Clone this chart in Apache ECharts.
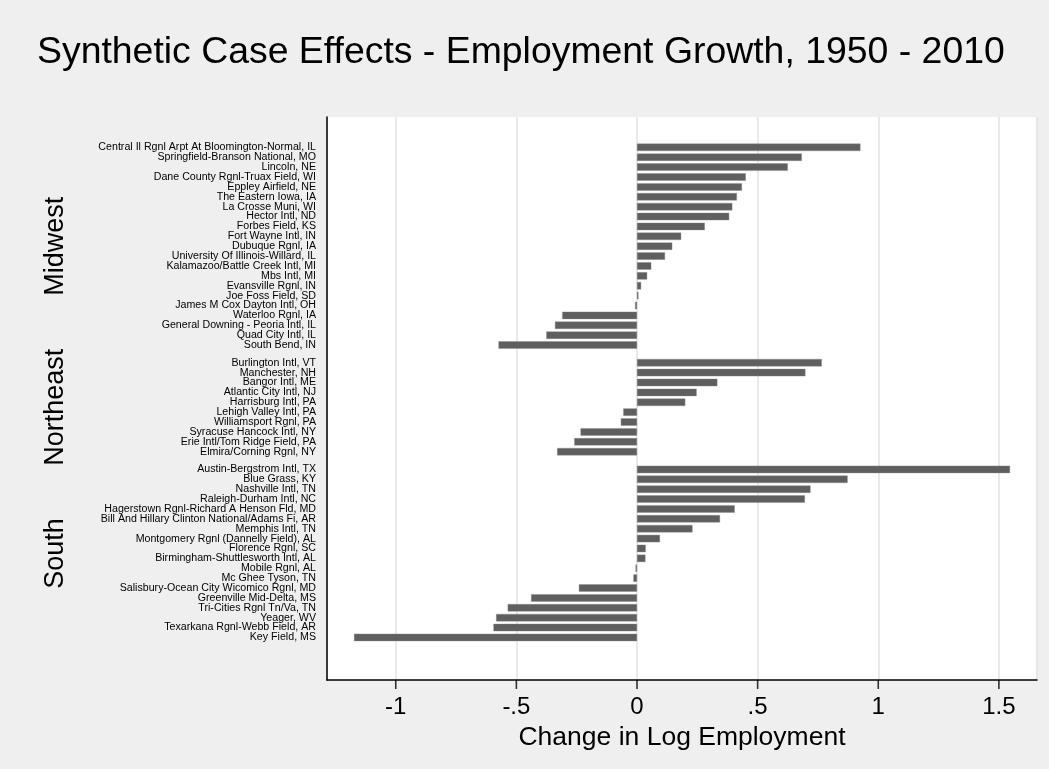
<!DOCTYPE html>
<html>
<head>
<meta charset="utf-8">
<script src="https://cdn.jsdelivr.net/npm/echarts@6/dist/echarts.min.js"></script>
<style>
html,body{margin:0;padding:0;background:#efefef;}
#chart{width:1049px;height:769px;}
</style>
</head>
<body>
<div id="chart"></div>
<script>
const titleText = 'Synthetic Case Effects - Employment Growth, 1950 - 2010';
const xAxisTitle = 'Change in Log Employment';
const xTicks = [-1, -0.5, 0, 0.5, 1, 1.5];
const regionNames = ['Midwest', 'Northeast', 'South'];

const midwestNames = [
  'Central Il Rgnl Arpt At Bloomington-Normal, IL',
  'Springfield-Branson National, MO',
  'Lincoln, NE',
  'Dane County Rgnl-Truax Field, WI',
  'Eppley Airfield, NE',
  'The Eastern Iowa, IA',
  'La Crosse Muni, WI',
  'Hector Intl, ND',
  'Forbes Field, KS',
  'Fort Wayne Intl, IN',
  'Dubuque Rgnl, IA',
  'University Of Illinois-Willard, IL',
  'Kalamazoo/Battle Creek Intl, MI',
  'Mbs Intl, MI',
  'Evansville Rgnl, IN',
  'Joe Foss Field, SD',
  'James M Cox Dayton Intl, OH',
  'Waterloo Rgnl, IA',
  'General Downing - Peoria Intl, IL',
  'Quad City Intl, IL',
  'South Bend, IN'
];
const midwestValues = [0.926, 0.683, 0.625, 0.451, 0.435, 0.414, 0.395, 0.382, 0.281, 0.183, 0.146, 0.116, 0.059, 0.042, 0.017, 0.006, -0.008, -0.310, -0.340, -0.376, -0.574];

const northeastNames = [
  'Burlington Intl, VT',
  'Manchester, NH',
  'Bangor Intl, ME',
  'Atlantic City Intl, NJ',
  'Harrisburg Intl, PA',
  'Lehigh Valley Intl, PA',
  'Williamsport Rgnl, PA',
  'Syracuse Hancock Intl, NY',
  'Erie Intl/Tom Ridge Field, PA',
  'Elmira/Corning Rgnl, NY'
];
const northeastValues = [0.766, 0.698, 0.333, 0.247, 0.200, -0.057, -0.067, -0.234, -0.260, -0.331];

const southNames = [
  'Austin-Bergstrom Intl, TX',
  'Blue Grass, KY',
  'Nashville Intl, TN',
  'Raleigh-Durham Intl, NC',
  'Hagerstown Rgnl-Richard A Henson Fld, MD',
  'Bill And Hillary Clinton National/Adams Fi, AR',
  'Memphis Intl, TN',
  'Montgomery Rgnl (Dannelly Field), AL',
  'Florence Rgnl, SC',
  'Birmingham-Shuttlesworth Intl, AL',
  'Mobile Rgnl, AL',
  'Mc Ghee Tyson, TN',
  'Salisbury-Ocean City Wicomico Rgnl, MD',
  'Greenville Mid-Delta, MS',
  'Tri-Cities Rgnl Tn/Va, TN',
  'Yeager, WV',
  'Texarkana Rgnl-Webb Field, AR',
  'Key Field, MS'
];
const southValues = [1.546, 0.873, 0.719, 0.696, 0.405, 0.344, 0.230, 0.095, 0.036, 0.035, -0.006, -0.015, -0.241, -0.439, -0.536, -0.584, -0.595, -1.173];

const groups = [
  {name: regionNames[0], cats: midwestNames, vals: midwestValues},
  {name: regionNames[1], cats: northeastNames, vals: northeastValues},
  {name: regionNames[2], cats: southNames, vals: southValues}
];

const X_MIN = -1.285, X_MAX = 1.658;
const PLOT_LEFT = 327, PLOT_RIGHT = 12, PLOT_TOP = 117, PLOT_BOTTOM_Y = 680;
const SLOT = 9.885, GROUP_GAP = 7.8;
const FIRST_TOP = 142.4;
const FONT = "'Liberation Sans', Arial, Helvetica, sans-serif";

function fmtTick(v) {
  let s = String(v);
  s = s.replace(/^0\./, '.').replace(/^-0\./, '-.');
  return s;
}

const grids = [{
  left: PLOT_LEFT, right: PLOT_RIGHT, top: PLOT_TOP, height: PLOT_BOTTOM_Y - PLOT_TOP,
  show: true, backgroundColor: '#ffffff', borderWidth: 0
}];
const xAxes = [{
  gridIndex: 0, type: 'value', min: X_MIN, max: X_MAX,
  name: xAxisTitle, nameLocation: 'middle', nameGap: 34,
  nameTextStyle: {fontFamily: FONT, fontSize: 26.5, color: '#000'},
  axisLine: {show: true, onZero: false, lineStyle: {color: '#000', width: 1.5}},
  axisTick: {show: false},
  axisLabel: {show: true, customValues: xTicks, margin: 15, fontFamily: FONT, fontSize: 24, color: '#000', formatter: fmtTick},
  splitLine: {show: true, lineStyle: {color: '#e2e2e2', width: 1.5}}
}];
const yAxes = [{
  gridIndex: 0, type: 'value', min: 0, max: 1,
  axisLine: {show: true, onZero: false, lineStyle: {color: '#000', width: 1.5}},
  axisTick: {show: false}, axisLabel: {show: false}, splitLine: {show: false}
}];
const seriesList = [{
  // tick marks below the x axis, placed at the tick values through the axis scale
  type: 'scatter', xAxisIndex: 0, yAxisIndex: 0,
  data: xTicks.map(v => [v, 0]),
  symbol: 'rect', symbolSize: [1.6, 9], symbolOffset: [0, 4.5],
  itemStyle: {color: '#000'}, clip: false, silent: true, z: 10, animation: false
}];

let gridTop = FIRST_TOP;
groups.forEach((g, i) => {
  const h = g.cats.length * SLOT;
  grids.push({left: PLOT_LEFT, right: PLOT_RIGHT, top: gridTop, height: h, show: false});
  xAxes.push({gridIndex: i + 1, type: 'value', min: X_MIN, max: X_MAX, show: false});
  yAxes.push({
    gridIndex: i + 1, type: 'category', data: g.cats, inverse: true,
    name: g.name, nameLocation: 'middle', nameRotate: 90, nameGap: 258,
    nameTextStyle: {fontFamily: FONT, fontSize: 27, color: '#000'},
    axisLine: {show: false, onZero: false}, axisTick: {show: false},
    axisLabel: {interval: 0, margin: 11, fontFamily: FONT, fontSize: 10.65, color: '#000'},
    splitLine: {show: false}
  });
  seriesList.push({
    type: 'bar', xAxisIndex: i + 1, yAxisIndex: i + 1, data: g.vals,
    barWidth: 7.4, itemStyle: {color: '#5f5f5f', borderColor: '#8a8a8a', borderWidth: 0.4},
    silent: true, animation: false
  });
  gridTop += h + GROUP_GAP;
});

const chart = echarts.init(document.getElementById('chart'), null, {renderer: 'canvas'});
chart.setOption({
  backgroundColor: '#efefef',
  animation: false,
  title: {
    text: titleText, left: 32, top: 29,
    textStyle: {fontFamily: FONT, fontSize: 37.4, fontWeight: 'normal', color: '#000'}
  },
  grid: grids, xAxis: xAxes, yAxis: yAxes, series: seriesList
});
</script>
</body>
</html>
